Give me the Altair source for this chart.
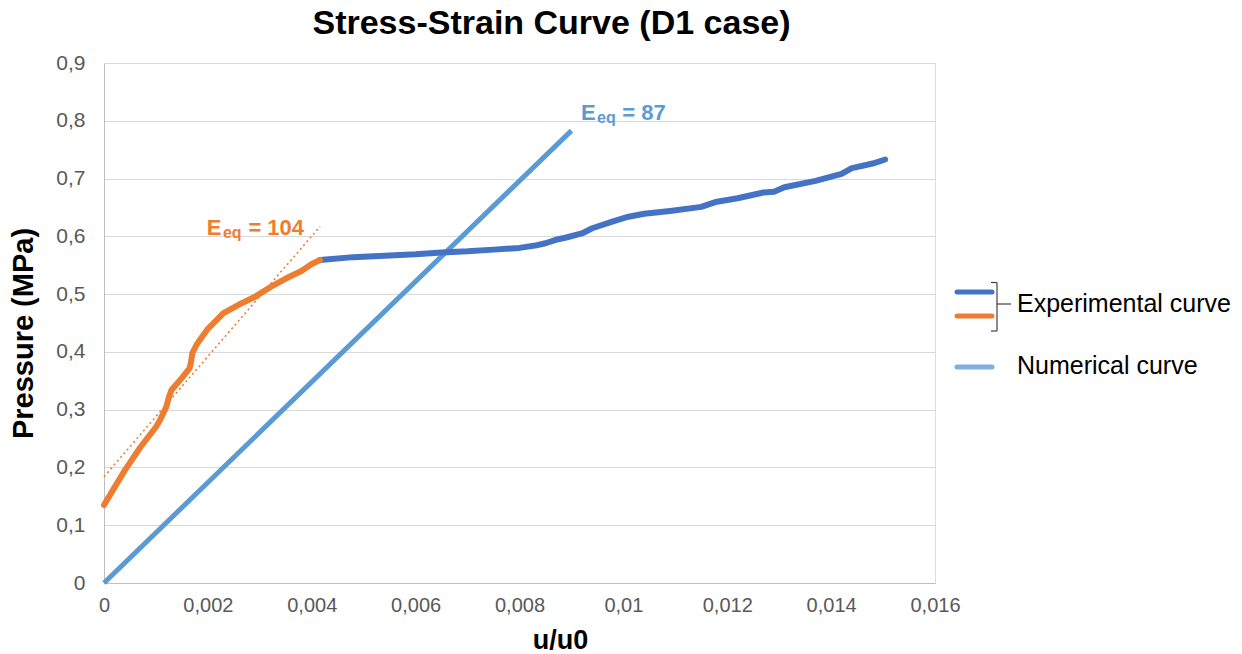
import altair as alt
import pandas as pd

# ---- data ----
exp_orange_x = [0.0, 0.0001, 0.0002, 0.0004, 0.0007, 0.0010, 0.00108, 0.0012, 0.00125, 0.0013,
                0.0015, 0.00165, 0.00168, 0.0017, 0.0018, 0.0020, 0.0023, 0.0026, 0.0029, 0.0032,
                0.0035, 0.0038, 0.0040, 0.00416]
exp_orange_y = [0.135, 0.150, 0.165, 0.195, 0.235, 0.270, 0.282, 0.305, 0.322, 0.334,
                0.355, 0.372, 0.385, 0.398, 0.415, 0.440, 0.467, 0.482, 0.495, 0.512,
                0.527, 0.540, 0.552, 0.559]

exp_blue_x = [0.00416, 0.0048, 0.0055, 0.0060, 0.0065, 0.0070, 0.0075, 0.0080, 0.0083, 0.0085,
              0.0087, 0.0089, 0.0092, 0.0094, 0.0098, 0.0101, 0.0104, 0.0109, 0.0115, 0.0118,
              0.0122, 0.0127, 0.0129, 0.0131, 0.0137, 0.0142, 0.0144, 0.0148, 0.01504]
exp_blue_y = [0.559, 0.564, 0.567, 0.569, 0.572, 0.574, 0.577, 0.580, 0.584, 0.588,
              0.594, 0.598, 0.605, 0.614, 0.626, 0.634, 0.639, 0.644, 0.651, 0.660,
              0.666, 0.676, 0.677, 0.685, 0.696, 0.708, 0.718, 0.726, 0.733]

num_x = [0.0, 0.009]
num_y = [0.0, 0.783]

trend_x = [0.0, 0.00416]
trend_y = [0.184, 0.617]

x_ticks = [0, 0.002, 0.004, 0.006, 0.008, 0.01, 0.012, 0.014, 0.016]
y_ticks = [0, 0.1, 0.2, 0.3, 0.4, 0.5, 0.6, 0.7, 0.8, 0.9]

ann_x = [0.00198, 0.00229, 0.00278, 0.009184, 0.009492, 0.00998]
ann_y = [0.6023, 0.5971, 0.6023, 0.8013, 0.7961, 0.8013]
ann_text = ["E", "eq", "= 104", "E", "eq", "= 87"]

FONT = "Liberation Sans"
BLUE = "#4472C4"
ORANGE = "#ED7D31"
LIGHT = "#5B9BD5"

W, H = 831, 520
PL, PT = 104, 63

df_or = pd.DataFrame({"x": exp_orange_x, "y": exp_orange_y, "o": range(len(exp_orange_x))})
df_bl = pd.DataFrame({"x": exp_blue_x, "y": exp_blue_y, "o": range(len(exp_blue_x))})
df_num = pd.DataFrame({"x": num_x, "y": num_y})
df_tr = pd.DataFrame({"x": trend_x, "y": trend_y})

lab = "replace(format(datum.value, '~g'), '.', ',')"
xs = alt.Scale(domain=[0, 0.016], nice=False, zero=False)
ys = alt.Scale(domain=[0, 0.9], nice=False, zero=False)
xax = alt.Axis(values=x_ticks, labelExpr=lab, grid=False, ticks=False, title="u/u0",
               labelFontSize=20, labelColor="#595959", labelFont=FONT, labelPadding=12,
               labelFlush=False, titleX=456,
               titleFontSize=27, titleFont=FONT, titleFontWeight="bold", titleColor="#000000",
               titlePadding=12, domainColor="#BFBFBF", domainWidth=1)
yax = alt.Axis(values=y_ticks, labelExpr=lab, grid=True, gridColor="#D9D9D9", ticks=False,
               title="Pressure (MPa)", labelFontSize=21, labelColor="#595959", labelFont=FONT,
               labelPadding=19, labelFlush=False, titleFontSize=29, titleFont=FONT,
               titleFontWeight="bold", titleColor="#000000", titlePadding=17, titleY=270,
               domainColor="#BFBFBF", domainWidth=1)

X = alt.X("x:Q", scale=xs, axis=xax)
Y = alt.Y("y:Q", scale=ys, axis=yax)

num = alt.Chart(df_num).mark_line(color=LIGHT, strokeWidth=5).encode(x=X, y=Y)
trend = alt.Chart(df_tr).mark_line(color=ORANGE, strokeWidth=1.6, strokeDash=[2, 3]).encode(x="x:Q", y="y:Q")
blue = alt.Chart(df_bl).mark_line(color=BLUE, strokeWidth=6, strokeCap="round", strokeJoin="round").encode(
    x="x:Q", y="y:Q", order="o:Q")
orange = alt.Chart(df_or).mark_line(color=ORANGE, strokeWidth=6, strokeCap="round", strokeJoin="round").encode(
    x="x:Q", y="y:Q", order="o:Q")

# annotations (E_eq labels)
ann = pd.DataFrame({
    "x": ann_x, "y": ann_y, "t": ann_text,
    "s": [22, 16, 22, 22, 16, 22],
    "c": [ORANGE, ORANGE, ORANGE, LIGHT, LIGHT, LIGHT],
})
annot = alt.Chart(ann).mark_text(align="left", baseline="alphabetic", font=FONT, fontWeight="bold").encode(
    x="x:Q", y="y:Q", text="t:N", size=alt.Size("s:Q", scale=None, legend=None),
    color=alt.Color("c:N", scale=None, legend=None))

one = pd.DataFrame({"k": [0]})


def hline(x1, x2, y, color, w, cap="round"):
    return alt.Chart(one).mark_rule(color=color, strokeWidth=w, strokeCap=cap).encode(
        x=alt.value(x1 - PL), x2=alt.value(x2 - PL), y=alt.value(y - PT))


def vline(x, y1, y2, color, w):
    return alt.Chart(one).mark_rule(color=color, strokeWidth=w).encode(
        x=alt.value(x - PL), y=alt.value(y1 - PT), y2=alt.value(y2 - PT))


def label(x, y, txt):
    return alt.Chart(one).mark_text(align="left", baseline="middle", font=FONT, fontSize=25,
                                     color="#000000").encode(
        x=alt.value(x - PL), y=alt.value(y - PT), text=alt.value(txt))


BR = "#404040"
legend = [
    hline(957, 992, 292, BLUE, 5),
    hline(957, 992, 316, ORANGE, 5),
    hline(957, 992, 367, "#7FAEDF", 5),
    hline(991, 997, 282.5, BR, 1.2, "butt"),
    vline(997, 282.5, 331, BR, 1.2),
    hline(991, 997, 331, BR, 1.2, "butt"),
    hline(997, 1011, 304, BR, 1.2, "butt"),
    label(1017, 304, "Experimental curve"),
    label(1017, 366, "Numerical curve"),
]

chart = alt.layer(num, trend, blue, orange, annot, *legend).properties(
    width=W, height=H,
    title=alt.TitleParams("Stress-Strain Curve (D1 case)", font=FONT, fontSize=34, fontWeight="bold",
                          color="#000000", anchor="middle", dx=32, offset=11),
    autosize=alt.AutoSizeParams(type="none"),
    padding={"left": PL, "top": PT, "right": 1242 - PL - W, "bottom": 654 - PT - H},
).configure_view(stroke=None).configure(background="white")

chart.save("out.html", embed_options={"renderer": "svg", "actions": False})
